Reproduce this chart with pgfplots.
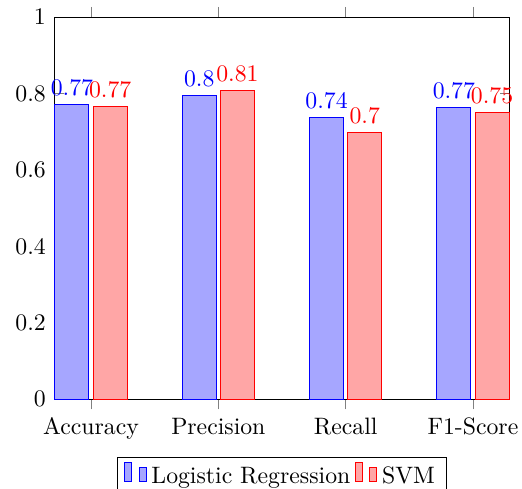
\documentclass[border=0pt]{standalone}
\usepackage{pgfplots}
\usetikzlibrary{calc}
\pgfplotsset{compat=1.18}
\begin{document}
\begin{tikzpicture}
\begin{axis}[
  name=main,
  scale only axis,
  width=192pt, height=161pt,
  ybar=1.8pt, bar width=14.3pt,
  xmin=-0.29, xmax=3.29,
  ymin=0, ymax=1,
  xtick=data,
  xticklabels={Accuracy,Precision,Recall,F1-Score},
  xtick align=outside,
  ytick={0,0.2,0.4,0.6,0.8,1},
  nodes near coords,
  point meta=explicit symbolic,
  legend style={at={(0.5,-0.15)},anchor=north,legend columns=-1},
]
\addplot[draw=blue, fill=blue!35, nodes near coords style={blue}] table[meta=lab] {
x y lab
0 0.772 0.77
1 0.795 0.8
2 0.738 0.74
3 0.764 0.77
};
\addplot[draw=red, fill=red!35, nodes near coords style={red}] table[meta=lab] {
x y lab
0 0.765 0.77
1 0.809 0.81
2 0.698 0.7
3 0.750 0.75
};
\legend{Logistic Regression,SVM}
\end{axis}
\pgfresetboundingbox
\useasboundingbox ($(main.south west)+(-22.8pt,-37.6pt)$) rectangle ($(main.north east)+(5.1pt,7.2pt)$);
\end{tikzpicture}
\end{document}
